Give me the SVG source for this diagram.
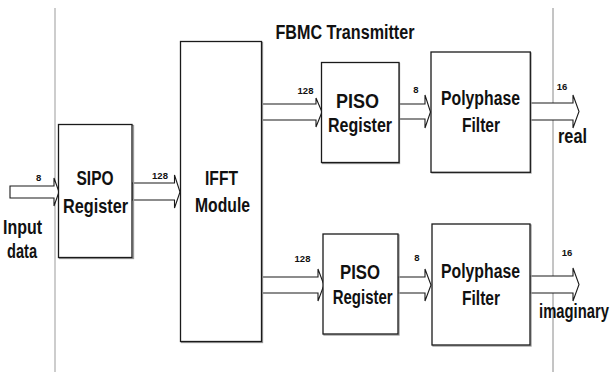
<svg xmlns="http://www.w3.org/2000/svg" width="614" height="372" viewBox="0 0 614 372">
<style>
.box{fill:#fff;stroke:#1a1a1a;stroke-width:1.3}
.sh{fill:none;stroke:#9a9a9a;stroke-width:1.3}
.arr{fill:#fff;stroke:#1a1a1a;stroke-width:1.1;stroke-linejoin:miter}
.t{font-family:"Liberation Sans",Arial,sans-serif;font-weight:bold;font-size:19.5px;fill:#111;text-anchor:middle}
.s{font-family:"Liberation Sans",Arial,sans-serif;font-weight:bold;font-size:9.5px;fill:#111;text-anchor:middle}
</style>
<rect width="614" height="372" fill="#fff"/>
<g id="boundary">
<line x1="55" y1="8" x2="55" y2="372" stroke="#bdbdbd" stroke-width="1.5"/>
<line x1="553" y1="8" x2="553" y2="372" stroke="#8a8a8a" stroke-width="1"/>
</g>
<text class="t" x="345" y="38.5" textLength="139" lengthAdjust="spacingAndGlyphs">FBMC Transmitter</text>
<g id="connectors">
<polygon class="arr" points="10,186 54,186 54,178 59,192 54,206 54,198 10,198"/>
<polygon class="arr" points="132,183 174.5,183 174.5,175 180,192 174.5,208 174.5,200 132,200"/>
<polygon class="arr" points="262,104 316,104 316,98 322,112 316,127 316,120 262,120"/>
<polygon class="arr" points="399,104 425,104 425,95 430.5,112 425,128 425,119 399,119"/>
<polygon class="arr" points="530,103 573,103 573,95 579,111.5 573,128 573,120 530,120"/>
<polygon class="arr" points="262,277 318,277 318,269 324,285 318,301 318,293 262,293"/>
<polygon class="arr" points="398,277 425,277 425,269 431,285 425,301 425,293 398,293"/>
<polygon class="arr" points="530,276 573,276 573,268 579,284.5 573,301 573,293 530,293"/>
<text class="s" x="38.7" y="181">8</text>
<text class="s" x="160" y="179">128</text>
<text class="s" x="305.5" y="94">128</text>
<text class="s" x="416" y="93">8</text>
<text class="s" x="562" y="90">16</text>
<text class="s" x="302.5" y="261.5">128</text>
<text class="s" x="417" y="261">8</text>
<text class="s" x="567" y="256">16</text>
</g>
<g id="input">
<text class="t" x="22.5" y="233.5" textLength="39" lengthAdjust="spacingAndGlyphs">Input</text>
<text class="t" x="22" y="258" textLength="30" lengthAdjust="spacingAndGlyphs">data</text>
</g>
<g id="sipo">
<rect class="sh" x="59.5" y="125.5" width="74" height="133"/>
<rect class="box" x="58.5" y="124.5" width="73.5" height="133"/>
<text class="t" x="95" y="184.5" textLength="37" lengthAdjust="spacingAndGlyphs">SIPO</text>
<text class="t" x="95.5" y="212.5" textLength="65" lengthAdjust="spacingAndGlyphs">Register</text>
</g>
<g id="ifft">
<rect class="sh" x="181.5" y="42.5" width="81" height="300"/>
<rect class="box" x="180.5" y="41.5" width="81" height="300"/>
<text class="t" x="221.5" y="184.5" textLength="33" lengthAdjust="spacingAndGlyphs">IFFT</text>
<text class="t" x="222.5" y="211.5" textLength="55" lengthAdjust="spacingAndGlyphs">Module</text>
</g>
<g id="piso1">
<rect class="sh" x="322.5" y="63.5" width="77" height="100"/>
<rect class="box" x="321.5" y="62.5" width="77.5" height="100"/>
<text class="t" x="357.5" y="107.5" textLength="43" lengthAdjust="spacingAndGlyphs">PISO</text>
<text class="t" x="360" y="131.5" textLength="64" lengthAdjust="spacingAndGlyphs">Register</text>
</g>
<g id="poly1">
<rect class="sh" x="432" y="53" width="99" height="120"/>
<rect class="box" x="431" y="52" width="99.3" height="120.3"/>
<text class="t" x="480.5" y="104.5" textLength="79" lengthAdjust="spacingAndGlyphs">Polyphase</text>
<text class="t" x="481" y="131.5" textLength="38" lengthAdjust="spacingAndGlyphs">Filter</text>
</g>
<g id="piso2">
<rect class="sh" x="324" y="235" width="75" height="100"/>
<rect class="box" x="323" y="234" width="75" height="100"/>
<text class="t" x="360" y="278.5" textLength="40" lengthAdjust="spacingAndGlyphs">PISO</text>
<text class="t" x="362.7" y="304" textLength="60" lengthAdjust="spacingAndGlyphs">Register</text>
</g>
<g id="poly2">
<rect class="sh" x="433" y="225" width="98" height="121"/>
<rect class="box" x="432" y="224" width="98" height="121"/>
<text class="t" x="480.5" y="278" textLength="79" lengthAdjust="spacingAndGlyphs">Polyphase</text>
<text class="t" x="481" y="305" textLength="38" lengthAdjust="spacingAndGlyphs">Filter</text>
</g>
<g id="outputs">
<text class="t" x="572.5" y="143" textLength="29" lengthAdjust="spacingAndGlyphs">real</text>
<text class="t" x="0" y="0" transform="translate(574,318) scale(0.76,1)">imaginary</text>
</g>
</svg>
